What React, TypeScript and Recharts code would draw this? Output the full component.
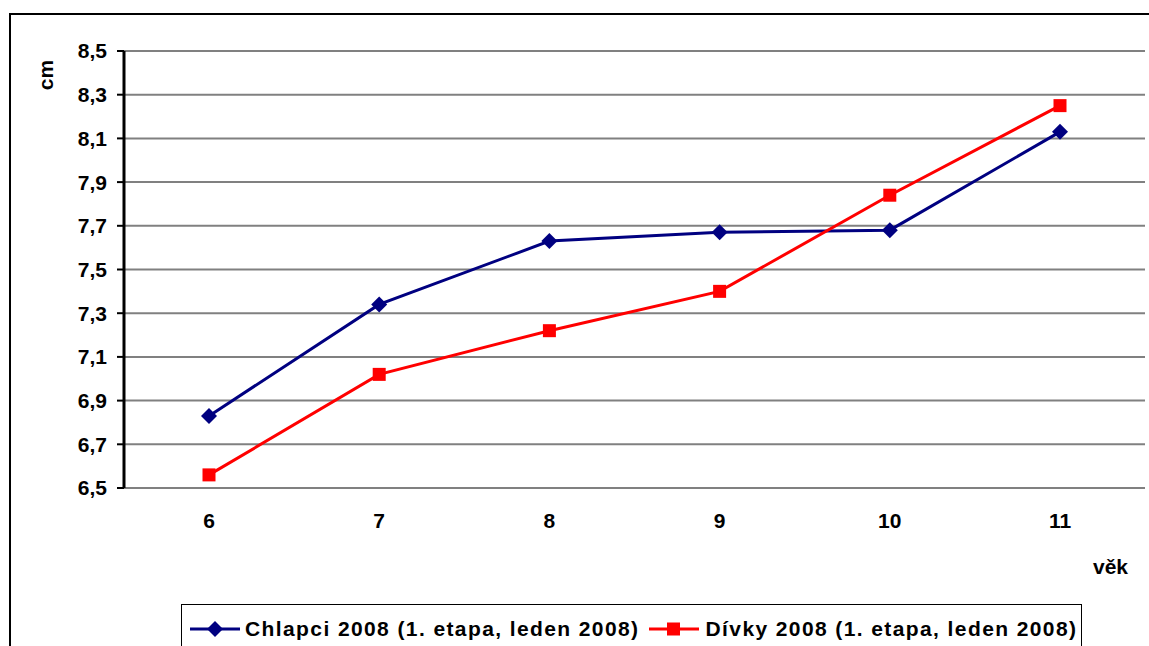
import { LineChart, Line, XAxis, YAxis, CartesianGrid } from "recharts";

const ages = ["6", "7", "8", "9", "10", "11"];
const boys = [6.83, 7.34, 7.63, 7.67, 7.68, 8.13];
const girls = [6.56, 7.02, 7.22, 7.4, 7.84, 8.25];
const yTicks = [6.5, 6.7, 6.9, 7.1, 7.3, 7.5, 7.7, 7.9, 8.1, 8.3, 8.5];
const edgeTicks = [0, 1, 2, 3, 4, 5, 6];

const boysName = "Chlapci 2008 (1. etapa, leden 2008)";
const girlsName = "Dívky 2008 (1. etapa, leden 2008)";
const BOYS_COLOR = "#000080";
const GIRLS_COLOR = "#FF0000";

const data = ages.map((age, i) => ({ age, boys: boys[i], girls: girls[i] }));

const FONT = "'Liberation Sans', Arial, sans-serif";
const FS = 21;

const Diamond = (props: any) => {
  const { cx, cy } = props;
  if (cx == null || cy == null) return null;
  const r = 8;
  return (
    <path
      d={`M${cx},${cy - r}L${cx + r},${cy}L${cx},${cy + r}L${cx - r},${cy}Z`}
      fill={BOYS_COLOR}
    />
  );
};

const Square = (props: any) => {
  const { cx, cy } = props;
  if (cx == null || cy == null) return null;
  const s = 13;
  return <rect x={cx - s / 2} y={cy - s / 2} width={s} height={s} fill={GIRLS_COLOR} />;
};

const fmt = (v: number) => v.toFixed(1).replace(".", ",");

const LegendSample = ({ color, square }: { color: string; square?: boolean }) => (
  <svg width={50} height={22} style={{ display: "block" }}>
    <line x1={0} y1={11} x2={50} y2={11} stroke={color} strokeWidth={3} />
    {square ? (
      <rect x={18} y={4.5} width={13} height={13} fill={color} />
    ) : (
      <path d="M25,3L33,11L25,19L17,11Z" fill={color} />
    )}
  </svg>
);

const axisText = { fill: "#000", fontSize: FS, fontWeight: "bold", fontFamily: FONT };

export default function App() {
  return (
    <div
      style={{
        position: "fixed",
        left: 0,
        top: 0,
        width: 1149,
        height: 646,
        overflow: "hidden",
        background: "#fff",
        fontFamily: FONT,
      }}
    >
      <div
        style={{
          position: "absolute",
          left: 9,
          top: 13,
          width: 1200,
          height: 700,
          borderLeft: "2px solid #000",
          borderTop: "2px solid #000",
        }}
      />
      <div style={{ position: "absolute", left: 0, top: 0 }}>
        <LineChart
          width={1149}
          height={646}
          data={data}
          margin={{ top: 51, right: 4, bottom: 98, left: 0 }}
        >
          <CartesianGrid vertical={false} stroke="#808080" strokeWidth={2} />
          <XAxis
            xAxisId="edges"
            type="number"
            dataKey={() => 0}
            domain={[0, 6]}
            ticks={edgeTicks}
            tick={false}
            height={0}
            tickSize={7}
            axisLine={{ stroke: "#000", strokeWidth: 3 }}
            tickLine={{ stroke: "#000", strokeWidth: 2 }}
          />
          <XAxis
            dataKey="age"
            padding={{ left: 85, right: 85 }}
            height={60}
            axisLine={false}
            tickLine={false}
            tickSize={0}
            tickMargin={25}
            tick={axisText}
            label={{
              value: "věk",
              content: (p: any) => {
                const vb = p.viewBox;
                return (
                  <text
                    x={vb.x + vb.width - 17}
                    y={vb.y + 86}
                    textAnchor="end"
                    fill="#000"
                    fontSize={FS}
                    fontWeight="bold"
                    fontFamily={FONT}
                  >
                    věk
                  </text>
                );
              },
            }}
          />
          <YAxis
            width={124}
            domain={[6.5, 8.5]}
            ticks={yTicks}
            tickFormatter={fmt}
            interval={0}
            tickSize={7}
            tickMargin={10}
            axisLine={{ stroke: "#000", strokeWidth: 3 }}
            tickLine={{ stroke: "#000", strokeWidth: 2 }}
            tick={axisText}
            label={{
              value: "cm",
              content: (p: any) => {
                const vb = p.viewBox;
                const x = vb.x + 45;
                const y = vb.y + 24;
                return (
                  <text
                    x={x}
                    y={y}
                    transform={`rotate(-90 ${x} ${y})`}
                    textAnchor="middle"
                    dominantBaseline="central"
                    fill="#000"
                    fontSize={FS}
                    fontWeight="bold"
                    fontFamily={FONT}
                  >
                    cm
                  </text>
                );
              },
            }}
          />
          <Line
            dataKey="boys"
            name={boysName}
            stroke={BOYS_COLOR}
            strokeWidth={3}
            dot={<Diamond />}
            activeDot={false}
            isAnimationActive={false}
          />
          <Line
            dataKey="girls"
            name={girlsName}
            stroke={GIRLS_COLOR}
            strokeWidth={3}
            dot={<Square />}
            activeDot={false}
            isAnimationActive={false}
          />
        </LineChart>
      </div>
      <div
        style={{
          position: "absolute",
          left: 181,
          top: 604,
          width: 901,
          height: 60,
          border: "1.5px solid #000",
          display: "flex",
          alignItems: "flex-start",
          paddingTop: 13,
          boxSizing: "border-box",
          fontSize: FS,
          fontWeight: "bold",
          letterSpacing: 1.4,
          color: "#000",
        }}
      >
        <div style={{ marginLeft: 8 }}>
          <LegendSample color={BOYS_COLOR} />
        </div>
        <span style={{ marginLeft: 5, lineHeight: "22px", whiteSpace: "nowrap" }}>{boysName}</span>
        <div style={{ marginLeft: 9 }}>
          <LegendSample color={GIRLS_COLOR} square />
        </div>
        <span style={{ marginLeft: 7, lineHeight: "22px", whiteSpace: "nowrap" }}>{girlsName}</span>
      </div>
    </div>
  );
}
